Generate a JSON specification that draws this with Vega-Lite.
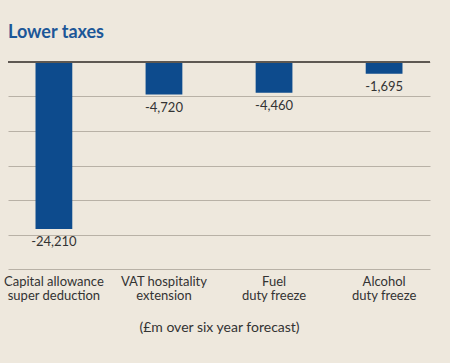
{
  "$schema": "https://vega.github.io/schema/vega-lite/v6.json",
  "autosize": {"type": "none"},
  "width": 422,
  "height": 207,
  "padding": {"left": 8, "top": 62, "right": 20, "bottom": 94},
  "background": "#eee8dd",
  "config": {
    "view": {"stroke": null},
    "font": "Lato"
  },
  "title": {
    "text": "Lower taxes",
    "anchor": "start",
    "frame": "group",
    "baseline": "alphabetic",
    "offset": 5,
    "fontSize": 18,
    "fontWeight": "bold",
    "font": "Lato",
    "color": "#1c5798"
  },
  "data": {
    "values": [
      {"category": "Capital allowance super deduction", "value": -24210},
      {"category": "VAT hospitality extension", "value": -4720},
      {"category": "Fuel duty freeze", "value": -4460},
      {"category": "Alcohol duty freeze", "value": -1695}
    ]
  },
  "transform": [
    {"calculate": "replace(format(datum.value, ','), '\u2212', '-')", "as": "label"}
  ],
  "encoding": {
    "y": {
      "field": "value",
      "type": "quantitative",
      "scale": {"domain": [-30000, 0], "nice": false},
      "axis": {
        "values": [-30000, -25000, -20000, -15000, -10000, -5000, 0],
        "labels": false,
        "ticks": false,
        "domain": false,
        "title": null,
        "grid": true,
        "gridColor": "#b8b1a6",
        "gridWidth": 1
      }
    }
  },
  "layer": [
    {
      "mark": {"type": "bar", "color": "#0d4b8d"},
      "encoding": {
        "x": {
          "field": "category",
          "type": "nominal",
          "sort": null,
          "scale": {"paddingInner": 0.666, "paddingOuter": 0.25},
          "axis": {
            "orient": "bottom",
            "domain": false,
            "ticks": false,
            "labelAngle": 0,
            "labelExpr": "datum.value == 'Capital allowance super deduction' ? ['Capital allowance', 'super deduction'] : datum.value == 'VAT hospitality extension' ? ['VAT hospitality', 'extension'] : datum.value == 'Fuel duty freeze' ? ['Fuel', 'duty freeze'] : ['Alcohol', 'duty freeze']",
            "labelFontSize": 13,
            "labelLineHeight": 14.5,
            "labelColor": "#333333",
            "labelPadding": 6,
            "labelBaseline": "top",
            "labelDx": 4,
            "title": "(£m over six year forecast)",
            "titleFontSize": 14,
            "titleFontWeight": "normal",
            "titleColor": "#333333",
            "titlePadding": 18
          }
        }
      }
    },
    {
      "mark": {"type": "text", "baseline": "top", "dy": 7, "fontSize": 13, "color": "#333333", "font": "Lato"},
      "encoding": {
        "x": {"field": "category", "type": "nominal", "sort": null},
        "text": {"field": "label"}
      }
    },
    {
      "mark": {"type": "rule", "color": "#5e5852", "strokeWidth": 1.5},
      "encoding": {
        "y": {"datum": 0}
      }
    }
  ]
}
